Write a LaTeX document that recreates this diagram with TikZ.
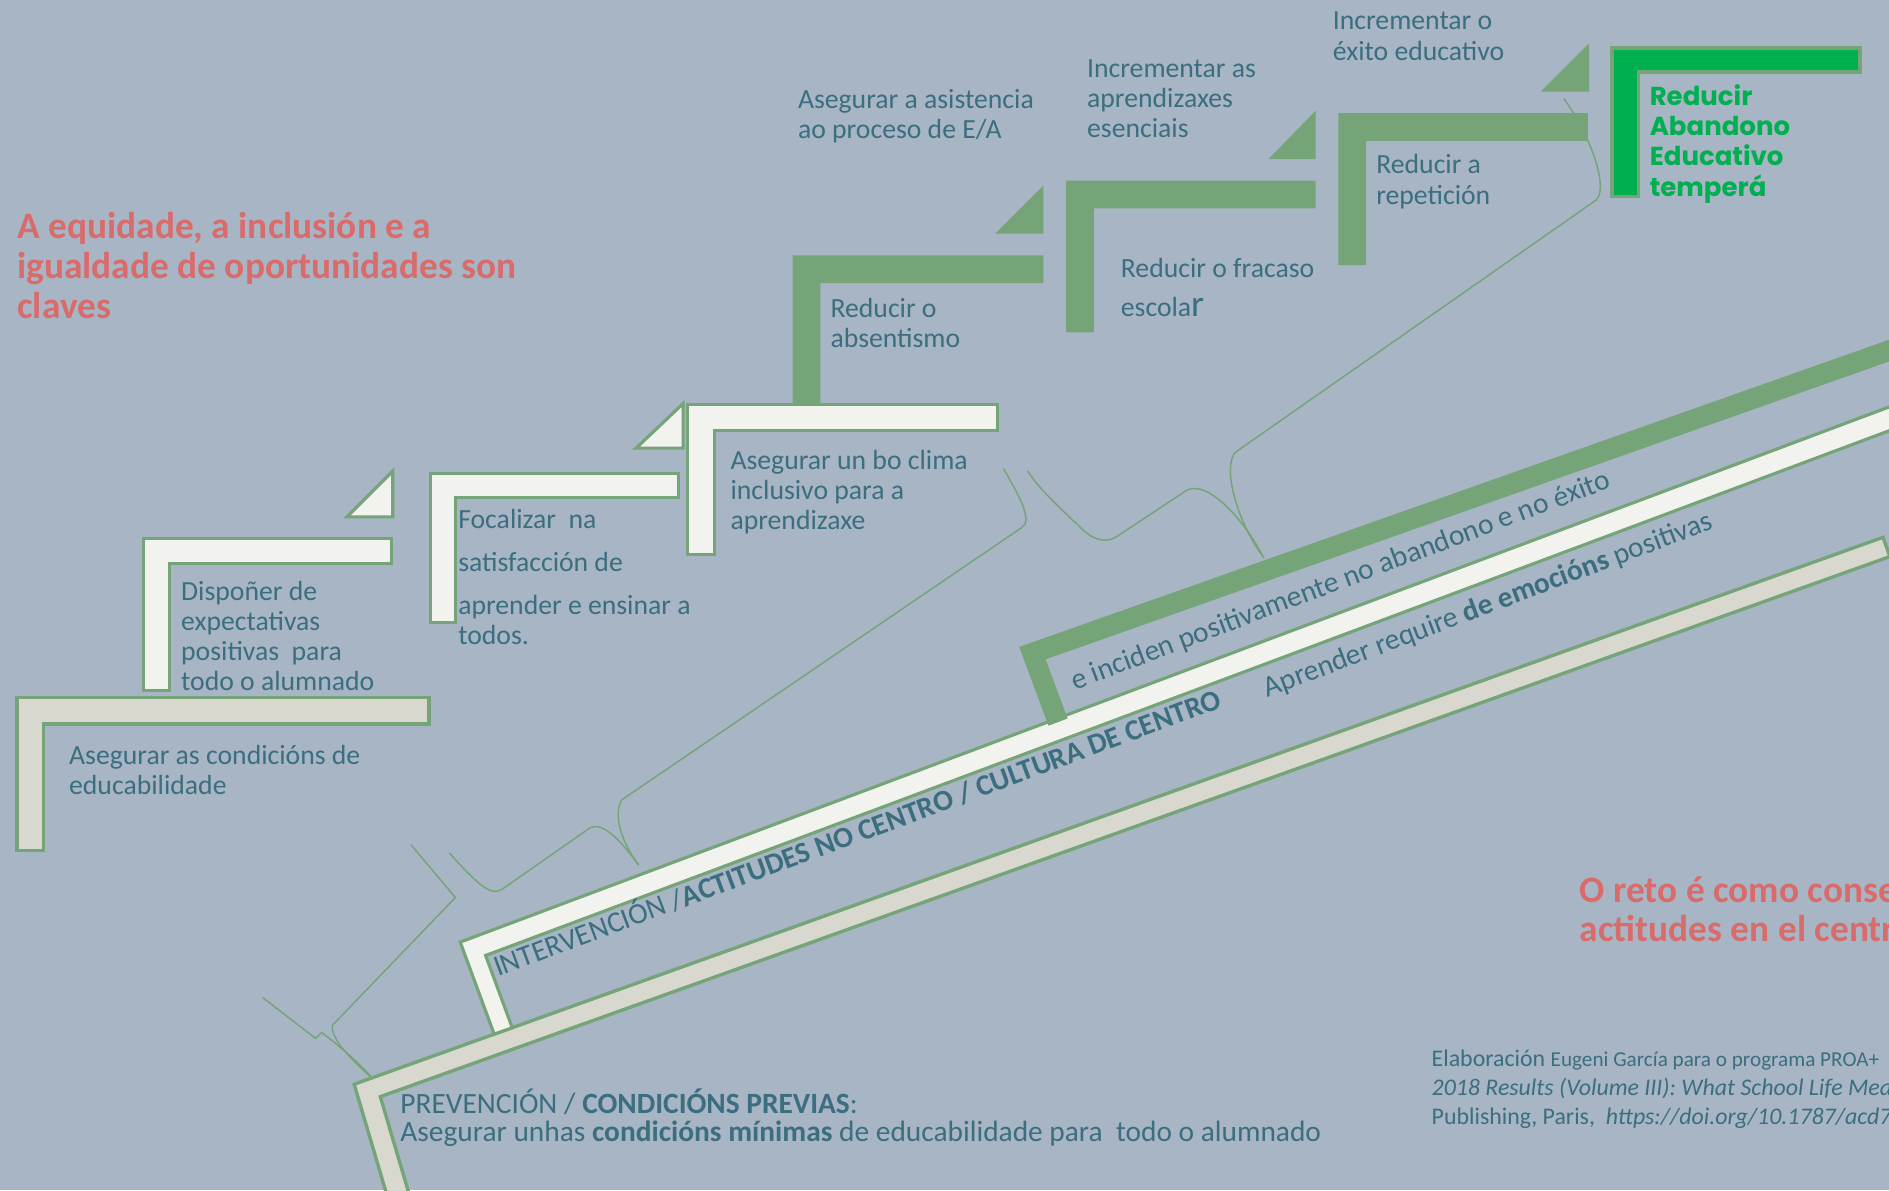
\documentclass[tikz,border=0pt]{standalone}
\usepackage{fontspec}
\setmainfont{Carlito}
\newfontfamily\heavyfont{Poppins}
\definecolor{bg}{HTML}{A8B5C5}
\definecolor{grn}{HTML}{74A477}
\definecolor{txt}{HTML}{3B6E7E}
\definecolor{redt}{HTML}{D96B6B}
\definecolor{bgreen}{HTML}{00B050}
\definecolor{wfill}{HTML}{F2F3EE}
\definecolor{beige}{HTML}{D8D8CF}
\tikzset{
  stepw/.style={fill=wfill, draw=grn, line width=1.3pt},
  stepb/.style={fill=beige, draw=grn, line width=1.4pt},
  stepg/.style={fill=grn},
  stepbright/.style={fill=bgreen, draw=grn, line width=1.5pt},
  brace/.style={draw=grn, line width=0.6pt},
  lbl/.style={text=txt, font=\fontsize{11.5}{12.5}\selectfont, align=left, anchor=north west, inner sep=0pt},
  redlbl/.style={text=redt, font=\fontsize{15.5}{16.5}\selectfont\bfseries, align=left, anchor=north west, inner sep=0pt},
  rotlbl/.style={text=txt, font=\fontsize{12.2}{13}\selectfont, anchor=base west, inner sep=0pt, rotate=20.7},
}
\begin{document}
\begin{tikzpicture}[x=0.5pt,y=-0.5pt]
\useasboundingbox (0,0) rectangle (1568,988);
\clip (0,0) rectangle (1568,988);
\fill[bg] (0,0) rectangle (1568,988);

% braces (thin curves)
\draw[brace] (1298,82) .. controls (1318,108) and (1336,155) .. (1325,166) -- (1026,375) .. controls (1014,386) and (1026,432) .. (1049,463);
\draw[brace] (1049,463) .. controls (1032,430) and (1002,398) .. (985,407) -- (926,446) .. controls (916,452) and (904,446) .. (896,437) .. controls (878,420) and (862,405) .. (853,391);
\draw[brace] (833,389) .. controls (845,410) and (858,432) .. (848,438) -- (516,664) .. controls (508,678) and (518,702) .. (530,718);
\draw[brace] (530,718) .. controls (515,697) and (500,682) .. (490,687) -- (417,738) .. controls (408,744) and (398,736) .. (373,708);
\draw[brace] (341,701) -- (378,745) -- (276,851) .. controls (274,862) and (292,880) .. (310,896);
\draw[brace] (218,828) -- (262,862) -- (267,857) .. controls (284,870) and (300,884) .. (310,896);

% diagonal bands
\draw[stepb] (323.5,1000) -- (294,900) -- (1563,446) -- (1568.7,462) -- (315.7,910.3) -- (342.2,1000) -- cycle;
\draw[stepw] (410.2,858.4) -- (382,782) -- (1610,322.1) -- (1610,341.9) -- (403.1,793.1) -- (425.2,853.1) -- cycle;
\fill[grn] (870.3,602.4) -- (846,537) -- (1610,267.2) -- (1610,285.2) -- (867.95,547.3) -- (886.1,596.4) -- cycle;

% steps
\draw[stepb] (14,579) -- (356,579) -- (356,601) -- (36,601) -- (36,706) -- (14,706) -- cycle;
\draw[stepw] (119,447) -- (325,447) -- (325,468) -- (141,468) -- (141,573) -- (119,573) -- cycle;
\draw[stepw] (326,391) -- (326,429) -- (288,429) -- cycle;
\draw[stepw] (357,393) -- (563,393) -- (563,413) -- (378,413) -- (378,517) -- (357,517) -- cycle;
\draw[stepw] (567,335) -- (567,372) -- (528,372) -- cycle;
\fill[grn] (658,212) -- (866,212) -- (866,235) -- (681,235) -- (681,337) -- (658,337) -- cycle;
\draw[stepw] (571,336) -- (828,336) -- (828,357) -- (593,357) -- (593,460) -- (571,460) -- cycle;
\fill[grn] (866,154) -- (866,194) -- (826,194) -- cycle;
\fill[grn] (885,150) -- (1092,150) -- (1092,173) -- (908,173) -- (908,276) -- (885,276) -- cycle;
\fill[grn] (1092,92) -- (1092,132) -- (1053,132) -- cycle;
\fill[grn] (1111,94) -- (1318,94) -- (1318,117) -- (1134,117) -- (1134,220) -- (1111,220) -- cycle;
\fill[grn] (1319,36) -- (1319,76) -- (1279,76) -- cycle;
\draw[stepbright] (1338,40) -- (1544,40) -- (1544,60) -- (1360,60) -- (1360,163) -- (1338,163) -- cycle;

% texts
\node[redlbl] (title) at (14,176) {A equidade, a inclusión e a\\igualdade de oportunidades son\\claves};
\node[redlbl] (reto) at (1311,727) {O reto é como conse\\actitudes en el centr};
\node[lbl] (educ) at (57,618) {Asegurar as condicións de\\educabilidade};
\node[lbl] (disp) at (150,482) {Dispoñer de\\expectativas\\positivas\ \ para\\todo o alumnado};
\node[lbl] (foc) at (380,422) {Focalizar\ \ na\\[5.5pt]satisfacción de\\[5.5pt]aprender e ensinar a\\todos.};
\node[lbl] (clima) at (606,373) {Asegurar un bo clima\\inclusivo para a\\aprendizaxe};
\node[lbl] (abs) at (689,247) {Reducir o\\absentismo};
\node[lbl, font=\fontsize{11.5}{16}\selectfont] (frac) at (930,214) {Reducir o fracaso\\escola{\fontsize{15.5}{16}\selectfont r}};
\node[lbl] (rep) at (1142,128) {Reducir a\\repetición};
\node[lbl, text=bgreen, font=\fontsize{10.8}{12.5}\selectfont\heavyfont\bfseries] (aband) at (1369,70) {Reducir\\Abandono\\Educativo\\temperá};
\node[lbl, font=\fontsize{11.5}{13}\selectfont] (exito) at (1106,9) {Incrementar o\\éxito educativo};
\node[lbl] (aprend) at (902,49) {Incrementar as\\aprendizaxes\\esenciais};
\node[lbl] (asist) at (662,74) {Asegurar a asistencia\\ao proceso de E/A};

\node[rotlbl, rotate=-0.3] (interv) at (413,811) {INTERVENCIÓN /\textbf{ACTITUDES NO CENTRO / CULTURA DE CENTRO}};
\node[rotlbl] (incid) at (892,573) {e inciden positivamente no abandono e no éxito};
\node[rotlbl] (emoc) at (1052,579) {Aprender require \textbf{de emocións} positivas};

\node[lbl, font=\fontsize{12.2}{12}\selectfont] (prev) at (332,903) {PREVENCIÓN / \textbf{CONDICIÓNS PREVIAS}:\\Asegurar unhas \textbf{condicións mínimas} de educabilidade para\ \ todo o alumnado};

\node[lbl, font=\fontsize{9.9}{12}\selectfont] (cita) at (1188,871) {Elaboración {\fontsize{8.8}{12}\selectfont Eugeni García para o programa PROA+}\\\textit{2018 Results (Volume III): What School Life Mea}\\Publishing, Paris,\ \ \textit{https://doi.org/10.1787/acd7}};
\end{tikzpicture}
\end{document}
